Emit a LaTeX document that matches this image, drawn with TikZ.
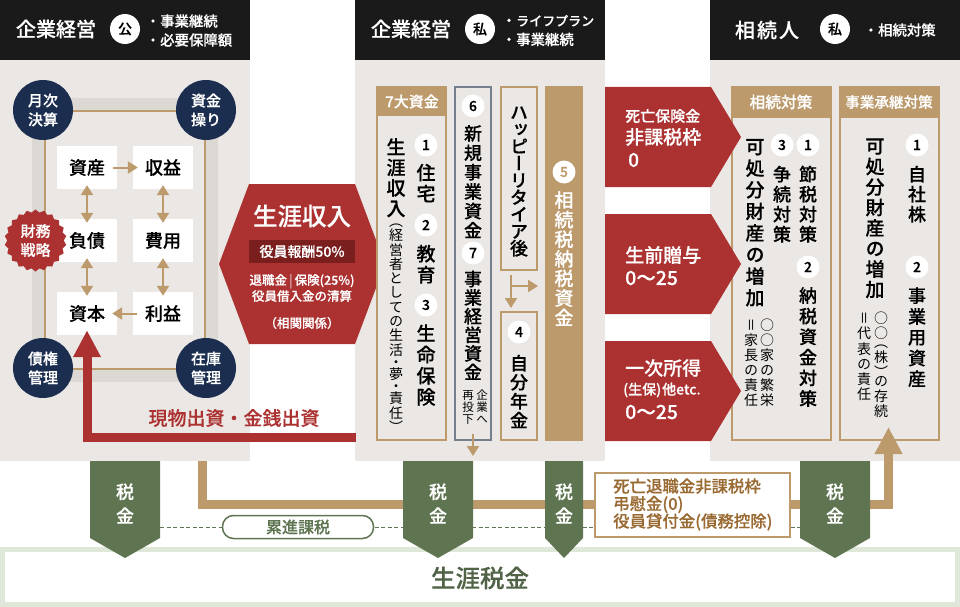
\documentclass[tikz,border=0pt]{standalone}
\usepackage{fontspec}
\setmainfont{Noto Sans CJK JP}[BoldFont={Noto Sans CJK JP Medium},BoldFeatures={FakeBold=0.25}]
\newfontfamily\vfont{Noto Sans CJK JP}[RawFeature={+vert},BoldFont={Noto Sans CJK JP Medium},BoldFeatures={RawFeature={+vert},FakeBold=0.25}]
\usetikzlibrary{arrows.meta,calc,shapes.geometric}
\definecolor{panelbg}{HTML}{EAE7E4}
\definecolor{bandgrey}{HTML}{DCD8D4}
\definecolor{headblack}{HTML}{1A1A1A}
\definecolor{navy}{HTML}{1C2E50}
\definecolor{redc}{HTML}{AC3232}
\definecolor{darkred}{HTML}{7A1E1E}
\definecolor{tan}{HTML}{BC9A6C}
\definecolor{taxgreen}{HTML}{5F7552}
\definecolor{palegreen}{HTML}{DFE7D9}
\definecolor{slate}{HTML}{75808F}
\definecolor{brownt}{HTML}{9A6A33}
\newcommand{\fs}[2]{\fontsize{#1}{#2}\selectfont}
% vertical text: one cell per character
\newdimen\vstepdim
\newdimen\vcur
\newdimen\vlift
\def\vcell#1{\vcur=\vstepdim \vlift=0pt
  \ifx#1（\vcur=.6\vstepdim \vlift=.2em \fi
  \ifx#1）\vcur=.6\vstepdim \vlift=-.2em \fi
  \ifx#1・\vcur=.7\vstepdim\fi
  \vbox to\vcur{\vss\hbox to 1em{\hss\smash{\raise\vlift\hbox{#1}}\hss}\vskip\dimexpr 0.5\vcur-0.38em\relax}}
\def\vloop#1{\ifx#1\relax\else\vcell#1\expandafter\vloop\fi}
\newcommand{\vchars}[2]{\vstepdim=#1pt\vbox{\offinterlineskip\vfont\vloop#2\relax}}
\begin{document}
\begin{tikzpicture}[x=1pt,y=-1pt]
  \tikzstyle{headtxt}=[text=white,font=\bfseries\fs{20}{24},inner sep=0]
  \tikzstyle{headsub}=[text=white,font=\bfseries\fs{14.4}{19},inner sep=0,anchor=west,align=left]
  \tikzstyle{headcirc}=[circle,fill=white,text=black,minimum size=30,inner sep=0,font=\bfseries\fs{14}{14}]
  \tikzstyle{corner}=[circle,fill=navy,text=white,minimum size=60,inner sep=0,align=center,font=\bfseries\fs{15}{19}]
  \tikzstyle{acct}=[fill=white,text=black,minimum width=60,minimum height=43,inner sep=0,font=\bfseries\fs{18}{18}]
  \tikzstyle{flow}=[tan,line width=2,-{Triangle[length=10pt,width=12pt]}]
  \tikzstyle{flowb}=[tan,line width=2,{Triangle[length=10pt,width=12pt]}-{Triangle[length=10pt,width=12pt]}]
  \tikzstyle{num}=[circle,fill=white,text=black,minimum size=23,inner sep=0,font=\bfseries\fs{14}{14}]
  \tikzstyle{vlab}=[inner sep=0,anchor=north,text=black]
  \tikzstyle{vbig}=[vlab,font=\bfseries\fs{19}{19}]
  \tikzstyle{vmid}=[vlab,font=\bfseries\fs{18}{18}]
  \tikzstyle{vsmall}=[vlab,font=\fs{14}{14}]
  \tikzstyle{arrtxt}=[text=white,inner sep=0,anchor=west,font=\bfseries]
  \tikzstyle{boxhead}=[text=white,inner sep=0,font=\bfseries\fs{15.7}{16}]
  \tikzstyle{taxlab}=[text=white,inner sep=0,align=center,font=\bfseries\fs{18}{24}]

  \useasboundingbox (0,0) rectangle (960,607);
  % panels
  \foreach \xa in {0,355,710}{
    \fill[panelbg] (\xa,60) rectangle ({\xa+250},461);
    \fill[headblack] (\xa,0) rectangle ({\xa+250},60);
  }
  \node[headtxt] (headl) at (56,29) {企業経営};
  \node[headcirc] (circl) at (125,29) {公};
  \node[headsub] (subl) at (145.6,30.5) {・事業継続\\・必要保障額};
  \node[headtxt] (headm) at (411,29) {企業経営};
  \node[headcirc] (circm) at (480,29) {私};
  \node[headsub] (subm) at (501.6,30.5) {・\fs{13}{19}ライフプラン\\・事業継続};
  \node[headtxt] (headr) at (767,30) {相\kern2pt 続\kern2pt 人};
  \node[headcirc] (circr) at (835,29) {私};
  \node[headsub] (subr) at (863.5,30) {・相続対策};

  % accounts square
  \fill[bandgrey] (32,98) rectangle (218,382);
  \draw[tan,line width=1.5,fill=panelbg] (45,111) rectangle (205,369);
  \node[corner] (getsuji) at (43,110) {月次\\決算};
  \node[corner] (shikin) at (206,110) {資金\\操り};
  \node[corner] (saiken) at (43,368) {債権\\管理};
  \node[corner] (zaiko) at (206,368) {在庫\\管理};
  \node[acct] (shisan) at (87,167.5) {資産};
  \node[acct] (shueki) at (163,167.5) {収益};
  \node[acct] (fusai) at (87,240.5) {負債};
  \node[acct] (hiyou) at (163,240.5) {費用};
  \node[acct] (shihon) at (87,313.5) {資本};
  \node[acct] (rieki) at (163,313.5) {利益};
  \draw[flow,shorten <=-4pt,shorten >=-5pt] (shisan) -- (shueki);
  \draw[flow,shorten <=-4pt,shorten >=-5pt] (rieki) -- (shihon);
  \draw[flowb,shorten <=-4pt,shorten >=-4pt] (shisan) -- (fusai);
  \draw[flowb,shorten <=-4pt,shorten >=-4pt] (fusai) -- (shihon);
  \draw[flowb,shorten <=-4pt,shorten >=-4pt] (shueki) -- (hiyou);
  \draw[flowb,shorten <=-4pt,shorten >=-4pt] (hiyou) -- (rieki);
  \node[star,star points=22,star point ratio=1.1,fill=redc,minimum size=62,inner sep=0] (burst) at (35.5,240.5) {};
  \node[text=white,inner sep=0,align=center,font=\bfseries\fs{15}{19}] (zaimu) at (burst) {財務\\戦略};

  % lifetime income hexagon
  \fill[redc] (249,184) -- (355,184) -- (385,264) -- (355,344) -- (249,344) -- (219,264) -- cycle;
  \node[text=white,inner sep=0,font=\bfseries\fs{24.5}{24}] (income) at (302,216) {生涯収入};
  \node[fill=darkred,text=white,minimum width=106,minimum height=23,inner sep=0,font=\bfseries\fs{14}{14}] (yakuin) at (302,251.5) {役員報酬50\%};
  \node[text=white,inner sep=0,align=center,font=\bfseries\fs{12.5}{16}] (taishoku) at (302,288) {退職金\,\textcolor{white!60!redc}{|}\,保険(25\%)\\役員借入金の清算};
  \node[text=white,inner sep=0,font=\bfseries\fs{12.5}{14}] (soukan) at (302,323) {（相関関係）};

  % 7 funds
  \draw[tan,line width=2,fill=panelbg] (377,87) rectangle (446,440);
  \fill[tan] (376,86) rectangle (447,116);
  \node[boxhead,font=\bfseries\fs{15}{15}] (funds) at (412,101.5) {7大資金};
  \node[vbig] (shogai) at (396,136.5) {\vchars{20.5}{生涯収入}};
  \node[vsmall] (keiei) at (396,219.5) {\vchars{14.3}{（経営者としての生活・夢・責任）}};
  \node[num] (n1) at (426,145) {1};
  \node[vbig] (jutaku) at (426,162) {\vchars{21}{住宅}};
  \node[num] (n2) at (426,225) {2};
  \node[vbig] (kyoiku) at (426,243) {\vchars{21}{教育}};
  \node[num] (n3) at (426,305) {3};
  \node[vbig] (hoken) at (426,322.5) {\vchars{21.2}{生命保険}};

  \draw[slate,line width=2.5,fill=panelbg] (455,87) rectangle (491,440);
  \node[num] (n6) at (473,106) {6};
  \node[vmid] (shinki) at (473,123.5) {\vchars{19.4}{新規事業資金}};
  \node[num] (n7) at (473,253) {7};
  \node[vmid] (jigyo) at (473,269.5) {\vchars{18.6}{事業経営資金}};
  \node[vlab,font=\fs{11.5}{11}] (kigyo) at (482,389) {\vchars{12}{企業へ}};
  \node[vlab,font=\fs{11.5}{11}] (saito) at (468,389) {\vchars{12}{再投下}};
  \coordinate (toinvest) at (473,456);
  \draw[flow] (473,434) -- (toinvest);

  \draw[tan,line width=2,fill=panelbg] (501,87) rectangle (537,270);
  \node[vmid] (happy) at (519,103.5) {\vchars{17}{ハッピーリタイア後}};
  \draw[tan,line width=2,fill=panelbg] (501,312) rectangle (537,440);
  \node[num] (n4) at (519,332) {4};
  \node[vmid] (jibun) at (519,353.5) {\vchars{19}{自分年金}};
  \coordinate (tee) at (511,286);
  \coordinate (totax) at (538,286);
  \coordinate (tonen) at (511,308);
  \draw[flow] (511,275) -- (tonen);
  \draw[flow] (tee) -- (totax);

  \fill[tan] (545,86) rectangle (583,441);
  \node[num,text=tan] (n5) at (564,172) {5};
  \node[vbig,text=white] (nozei) at (564,190) {\vchars{19.6}{相続税納税資金}};

  % inheritance boxes
  \draw[tan,line width=2,fill=panelbg] (732,87) rectangle (831,440);
  \fill[tan] (731,86) rectangle (832,118);
  \node[boxhead] (sozoku) at (781,102) {相続対策};
  \node[vbig] (kasho) at (755,135.5) {\vchars{21.6}{可処分財産の増加}};
  \node[num] (r3) at (782,145) {3};
  \node[vmid] (arasoi) at (782,164) {\vchars{20}{争続対策}};
  \node[num] (r1) at (808,145) {1};
  \node[vmid] (setsuzei) at (808,164) {\vchars{20}{節税対策}};
  \node[num] (r2) at (808,267) {2};
  \node[vmid] (nozeishi) at (808,285) {\vchars{20.6}{納税資金対策}};
  \node[vsmall] (hanei) at (767,317.5) {\vchars{15}{○○家の繁栄}};
  \node[vsmall] (kacho) at (751,317.5) {\vchars{15}{＝家長の責任}};

  \draw[tan,line width=2,fill=panelbg] (840,87) rectangle (939,440);
  \fill[tan] (839,86) rectangle (940,118);
  \node[boxhead,font=\bfseries\fs{14.6}{15}] (shokei) at (889,102) {事業承継対策};
  \node[vbig] (kasho2) at (875,135.5) {\vchars{20.5}{可処分財産の増加}};
  \node[num] (s1) at (917,145) {1};
  \node[vmid] (jisha) at (917,164) {\vchars{20}{自社株}};
  \node[num] (s2) at (917,267) {2};
  \node[vmid] (jigyoyo) at (917,285) {\vchars{20.8}{事業用資産}};
  \node[vsmall] (sonzoku) at (881,310.5) {\vchars{15}{○○（株）の存続}};
  \node[vsmall] (daihyo) at (864,310.5) {\vchars{15.2}{＝代表の責任}};

  % bottom band
  \fill[palegreen] (0,547) rectangle (960,607);
  \fill[white] (5,552) rectangle (955,602);
  \node[text=taxgreen!85!black,inner sep=0,font=\bfseries\fs{24.5}{24}] (lifetax) at (480,578) {生涯税金};

  % tan line and dashed line run behind the tax arrows
  \coordinate (tanfrom) at (202.5,461);
  \coordinate (tantip) at (888.5,427);
  \draw[tan,line width=9,-{Triangle[length=27pt,width=26pt]}] (tanfrom) |- (888.5,504.5) -- (tantip);
  \coordinate (dashl) at (160,527);
  \coordinate (dashr) at (800,527);
  \draw[taxgreen,line width=1,dash pattern=on 4pt off 2.5pt] (dashl) -- (dashr);
  \node[draw=taxgreen,line width=1.5,fill=white,rounded corners=11,minimum width=151,minimum height=23,inner sep=0,text=taxgreen,font=\bfseries\fs{16}{16}] (ruishin) at (298,527) {累進課税};
  \foreach \n/\xl/\xr in {1/90/160,2/403/473,3/545/583,4/800/870}{
    \fill[taxgreen] (\xl,461) -- (\xr,461) -- (\xr,538) -- ({(\xl+\xr)/2},558) -- (\xl,538) -- cycle;
    \node[taxlab] (tax\n) at ({(\xl+\xr)/2},503.5) {税\\金};
  }
  \node[draw=tan,line width=2,fill=white,minimum width=195,minimum height=64,inner sep=0] (retire) at (692,504.5) {};
  \node[text=brownt,inner sep=0,anchor=west,align=left,font=\bfseries\fs{16.4}{17.5}] (retiretxt) at (613,504.5) {死亡退職金非課税枠\\弔慰金(0)\\役員貸付金(債務控除)};

  % capital arrow
  \coordinate (genbutsu) at (356,437.5);
  \draw[redc,line width=9,-{Triangle[length=27pt,width=26pt]}] (genbutsu) -| ([yshift=5pt]shihon.south);
  \node[text=redc,inner sep=0,font=\bfseries\fs{19}{19}] (shusshi) at (234,418) {現物出資・金銭出資};

  % red arrows
  \foreach \yt in {87,214,341}{
    \fill[redc] (605,\yt) -- (711,\yt) -- (741,{\yt+50}) -- (711,{\yt+100}) -- (605,{\yt+100}) -- cycle;
  }
  \node[arrtxt,font=\bfseries\fs{15}{15}] (shibo) at (625,116) {死亡保険金};
  \node[arrtxt,font=\bfseries\fs{19}{19}] (hika) at (625,137) {非課税枠};
  \node[arrtxt,font=\bfseries\fs{19}{19}] (zero) at (628,160) {0};
  \node[arrtxt,font=\bfseries\fs{19}{19}] (seizen) at (625,255) {生前贈与};
  \node[arrtxt,font=\bfseries\fs{19.5}{19}] (range1) at (625,278) {0〜25};
  \node[arrtxt,font=\bfseries\fs{19}{19}] (ichiji) at (625,368) {一次所得};
  \node[arrtxt,font=\bfseries\fs{14}{14}] (seiho) at (623,390) {(生保)\kern1pt 他etc.};
  \node[arrtxt,font=\bfseries\fs{19.5}{19}] (range2) at (625,412) {0〜25};
\end{tikzpicture}
\end{document}
